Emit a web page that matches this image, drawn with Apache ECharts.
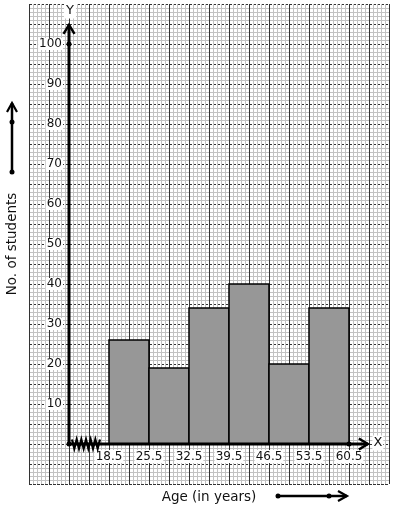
<!DOCTYPE html>
<html><head><meta charset="utf-8">
<script src="https://cdn.jsdelivr.net/npm/echarts@6/dist/echarts.min.js"></script>
<style>html,body{margin:0;padding:0;background:#fff}#c{width:394px;height:510px}</style>
</head><body><div id="c"></div>
<script>
// ---- data ----
const classEdges = [18.5, 25.5, 32.5, 39.5, 46.5, 53.5, 60.5];
const students = [26, 19, 34, 40, 20, 34];
const xTickLabels = ['18.5', '25.5', '32.5', '39.5', '46.5', '53.5', '60.5'];
const yTickLabels = [10, 20, 30, 40, 50, 60, 70, 80, 90, 100];
const xTitle = 'Age (in years)';
const yTitle = 'No. of students';

const histData = students.map((v, i) => [classEdges[i], classEdges[i + 1], v]);
const FONT = 'DejaVu Sans';
const chart = echarts.init(document.getElementById('c'), null, { renderer: 'canvas' });

const gridMajor = { show: true, lineStyle: { color: '#333333', width: 1 } };
const gridMinor = { show: true, lineStyle: { color: '#c2c2c2', width: 1 } };

chart.setOption({
  animation: false,
  backgroundColor: '#fff',
  grid: { left: 29, top: 4, width: 360, height: 480, containLabel: false, outerBoundsMode: 'none' },
  xAxis: [
    { type: 'value', position: 'top', min: 0, max: 18, interval: 1,
      axisLine: { show: false }, axisTick: { show: false }, axisLabel: { show: false },
      splitLine: gridMajor, minorTick: { show: false, splitNumber: 5 }, minorSplitLine: gridMinor },
    { type: 'value', position: 'bottom', offset: -40, min: 4.5, max: 67.5,
      axisLine: { show: false }, axisTick: { show: false }, splitLine: { show: false },
      name: xTitle, nameLocation: 'middle', nameGap: 46,
      nameTextStyle: { fontFamily: FONT, fontSize: 13.5, color: '#111' },
      axisLabel: { customValues: classEdges, fontFamily: FONT, fontSize: 12, color: '#111',
        margin: 6, backgroundColor: '#fff', padding: [1, 1, 0, 1],
        formatter: v => xTickLabels[classEdges.indexOf(v)] } }
  ],
  yAxis: [
    { type: 'value', position: 'right', min: -10, max: 110, interval: 5,
      axisLine: { show: false }, axisTick: { show: false }, axisLabel: { show: false },
      splitLine: { show: true, lineStyle: { color: '#333333', width: 1, type: [3, 1] } },
      minorTick: { show: false, splitNumber: 5 }, minorSplitLine: gridMinor },
    { type: 'value', position: 'left', offset: -40, min: -10, max: 110,
      axisLine: { show: false }, axisTick: { show: false }, splitLine: { show: false },
      name: yTitle, nameLocation: 'middle', nameGap: 50,
      nameTextStyle: { fontFamily: FONT, fontSize: 13.5, color: '#111' },
      axisLabel: { customValues: yTickLabels, fontFamily: FONT, fontSize: 12, color: '#111',
        margin: 6, backgroundColor: '#fff', padding: [0, 1, 0, 1] } }
  ],
  series: [{
    type: 'custom', xAxisIndex: 1, yAxisIndex: 1, z: 5,
    data: histData,
    encode: { x: [0, 1], y: 2 },
    renderItem: (params, api) => {
      const p0 = api.coord([api.value(0), api.value(2)]);
      const p1 = api.coord([api.value(1), 0]);
      return { type: 'rect',
        shape: { x: p0[0], y: p0[1], width: p1[0] - p0[0], height: p1[1] - p0[1] },
        style: { fill: '#979797', stroke: '#000', lineWidth: 1.5 } };
    }
  }]
});

// ---- axis decorations (positions via the chart's scales) ----
const P = (x, y) => chart.convertToPixel({ seriesIndex: 0 }, [x, y]);
const axisX0 = classEdges[0] - (classEdges[1] - classEdges[0]);
const o = P(axisX0, 0);
const yTop = P(axisX0, 104.8);
const xEnd = P(63.8, 0);
const dot = (p) => ({ type: 'circle', shape: { cx: p[0], cy: p[1], r: 2.5 }, style: { fill: '#000' }, z: 20 });
const els = [];
// y axis
els.push({ type: 'line', shape: { x1: o[0], y1: o[1], x2: yTop[0], y2: yTop[1] }, style: { stroke: '#000', lineWidth: 3 }, z: 20 });
els.push({ type: 'polyline', shape: { points: [[yTop[0] - 5.5, yTop[1] + 9], [yTop[0], yTop[1]], [yTop[0] + 5.5, yTop[1] + 9]] }, style: { stroke: '#000', lineWidth: 2.5, fill: null }, z: 20 });
els.push(dot(P(axisX0, 100)));
els.push({ type: 'text', x: o[0] + 1, y: 11, style: { text: 'Y', font: '13px "DejaVu Sans"', fill: '#111', align: 'center', verticalAlign: 'middle', backgroundColor: '#fff', padding: [1, 2] }, z: 21 });
// x axis
els.push({ type: 'line', shape: { x1: o[0], y1: o[1], x2: xEnd[0], y2: xEnd[1] }, style: { stroke: '#000', lineWidth: 3 }, z: 20 });
els.push({ type: 'polyline', shape: { points: [[xEnd[0] - 9, xEnd[1] - 5.5], [xEnd[0], xEnd[1]], [xEnd[0] - 9, xEnd[1] + 5.5]] }, style: { stroke: '#000', lineWidth: 2.5, fill: null }, z: 20 });
els.push({ type: 'text', x: xEnd[0] + 10, y: o[1] - 1, style: { text: 'X', font: '13px "DejaVu Sans"', fill: '#111', align: 'center', verticalAlign: 'middle', backgroundColor: '#fff', padding: [1, 1] }, z: 21 });
els.push(dot(o));
els.push(dot(P(classEdges[classEdges.length - 1], 0)));
// kink (zigzag) on x axis
const zz = [];
const zx0 = o[0] + 3, zx1 = P(classEdges[0], 0)[0] - 9;
const n = 12;
for (let i = 0; i <= n; i++) {
  zz.push([zx0 + (zx1 - zx0) * i / n, o[1] + (i % 2 === 0 ? -4.5 : 4.5)]);
}
els.push({ type: 'polyline', shape: { points: zz }, style: { stroke: '#000', lineWidth: 2.2, fill: null }, z: 21 });
// title arrows
els.push({ type: 'line', shape: { x1: 12, y1: 172, x2: 12, y2: 103 }, style: { stroke: '#000', lineWidth: 2.5 }, z: 20 });
els.push({ type: 'polyline', shape: { points: [[7, 112], [12, 103], [17, 112]] }, style: { stroke: '#000', lineWidth: 2.2, fill: null }, z: 20 });
els.push({ type: 'circle', shape: { cx: 12, cy: 122, r: 2.5 }, style: { fill: '#000' }, z: 20 });
els.push({ type: 'circle', shape: { cx: 12, cy: 172, r: 2.5 }, style: { fill: '#000' }, z: 20 });
els.push({ type: 'line', shape: { x1: 278, y1: 496, x2: 347, y2: 496 }, style: { stroke: '#000', lineWidth: 2.5 }, z: 20 });
els.push({ type: 'polyline', shape: { points: [[338, 491], [347, 496], [338, 501]] }, style: { stroke: '#000', lineWidth: 2.2, fill: null }, z: 20 });
els.push({ type: 'circle', shape: { cx: 278, cy: 496, r: 2.5 }, style: { fill: '#000' }, z: 20 });
els.push({ type: 'circle', shape: { cx: 329, cy: 496, r: 2.5 }, style: { fill: '#000' }, z: 20 });
chart.setOption({ graphic: { elements: els } });
</script>
</body></html>
